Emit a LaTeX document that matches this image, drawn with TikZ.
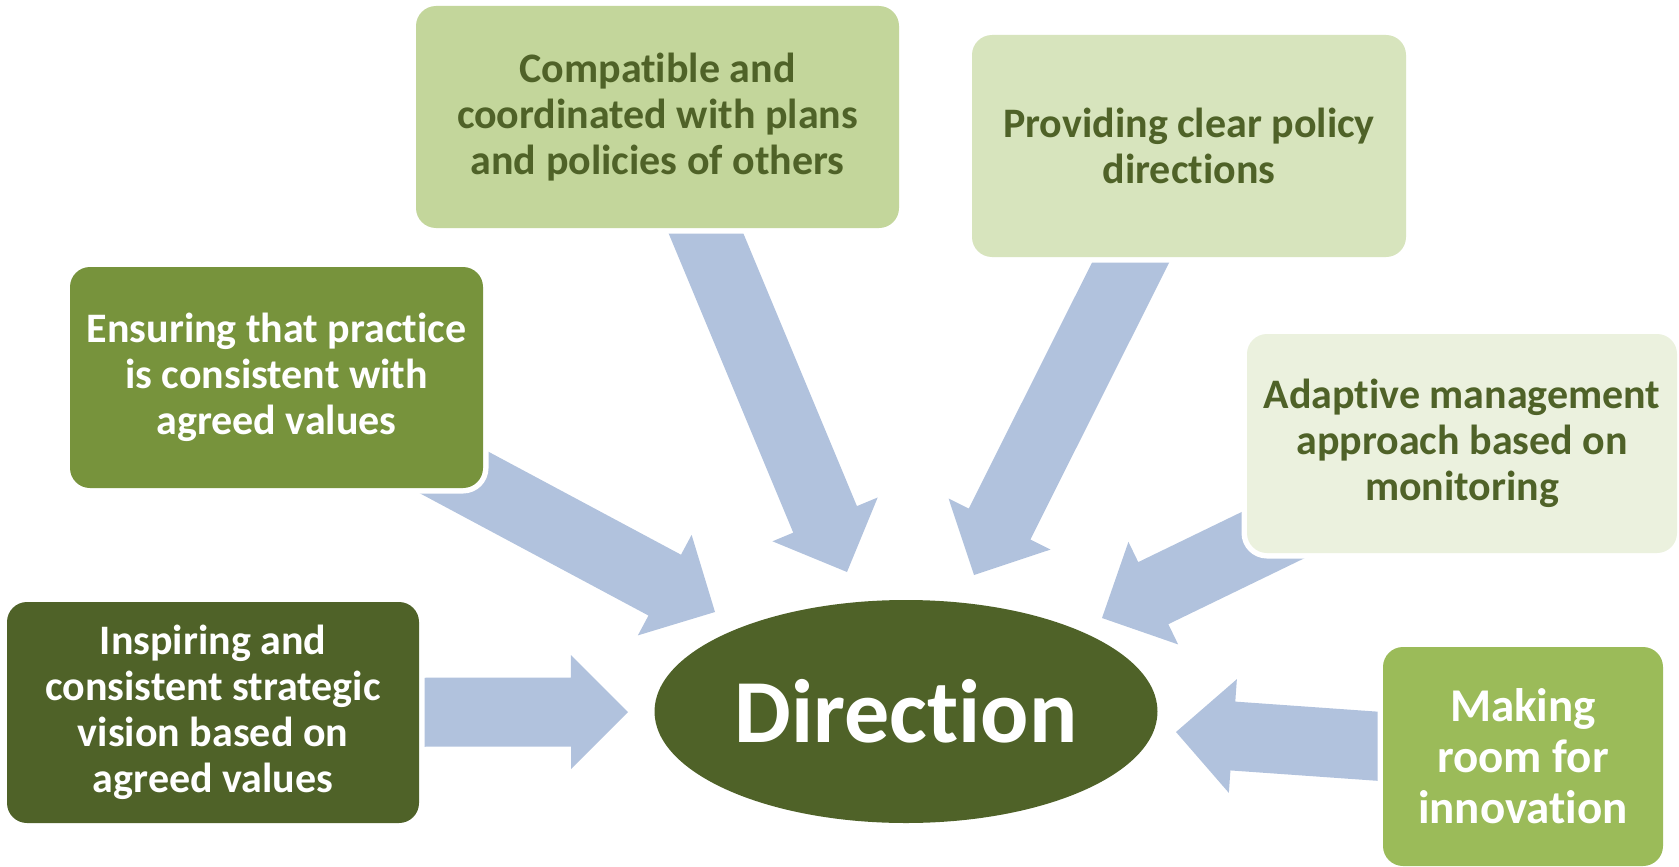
\documentclass[tikz,border=0pt]{standalone}
\usepackage{fontspec}
\setmainfont{Carlito}[Ligatures={NoCommon}]
\usetikzlibrary{calc,shapes.geometric}
\definecolor{cDark}{RGB}{79,98,40}
\definecolor{cMid}{RGB}{119,147,60}
\definecolor{cPale}{RGB}{195,214,155}
\definecolor{cPaler}{RGB}{215,228,189}
\definecolor{cPalest}{RGB}{235,241,222}
\definecolor{cLime}{RGB}{155,187,89}
\definecolor{cArrow}{RGB}{177,194,221}
\newcommand{\blkarrow}[2]{%
  \path (#1.center) coordinate (bt) (#2.center) coordinate (bp);
  \coordinate (bh) at ($(bp)!57pt!(bt)$);
  \fill[arrowfill] ($(bt)!34.5pt!90:(bp)$) -- ($(bh)!34.5pt!-90:(bt)$) -- ($(bh)!57pt!-90:(bt)$) -- (bp)
     -- ($(bh)!57pt!90:(bt)$) -- ($(bh)!34.5pt!90:(bt)$) -- ($(bt)!34.5pt!-90:(bp)$) -- cycle;
}
\begin{document}
\begin{tikzpicture}[x=1pt,y=-1pt,
  arrowfill/.style={fill=cArrow},
  boxst/.style={rectangle, rounded corners=20pt, inner sep=0pt, align=center,
    preaction={draw=white, line width=11pt},
    font=\fontsize{42}{46}\selectfont\bfseries},
  darktext/.style={text=cDark},
  lighttext/.style={text=white}]
\useasboundingbox (0,0) rectangle (1679,867);
\path
  (213,712.5) coordinate (c1)
  (276.5,377.5) coordinate (c2)
  (657.5,117) coordinate (c3)
  (1189,146) coordinate (c4)
  (1462,443.5) coordinate (c5)
  (1523,756.5) coordinate (c6);
\coordinate (tA) at (628,712);
\coordinate (tB) at (715,612);
\coordinate (tC) at (847,572);
\coordinate (tD) at (974,575);
\coordinate (tE) at (1102,618);
\coordinate (tF) at (1176,732);
\blkarrow{c1}{tA}
\blkarrow{c2}{tB}
\blkarrow{c3}{tC}
\blkarrow{c4}{tD}
\blkarrow{c5}{tE}
\blkarrow{c6}{tF}
\node[boxst, lighttext, fill=cDark, minimum width=412pt, minimum height=221pt] (b1) at (c1)
  {Inspiring and\\consistent strategic\\vision based on\\agreed values};
\node[boxst, lighttext, fill=cMid, minimum width=413pt, minimum height=221pt] (b2) at (c2)
  {Ensuring that practice\\is consistent with\\agreed values};
\node[boxst, darktext, fill=cPale, minimum width=483pt, minimum height=222pt] (b3) at (c3)
  {Compatible and\\coordinated with plans\\and policies of others};
\node[boxst, darktext, fill=cPaler, minimum width=434pt, minimum height=222pt] (b4) at (c4)
  {Providing clear policy\\directions};
\node[boxst, darktext, fill=cPalest, minimum width=430pt, minimum height=219pt] (b5) at (c5)
  {Adaptive management\\approach based on\\monitoring};
\node[boxst, lighttext, fill=cLime, minimum width=280pt, minimum height=219pt,
  font=\fontsize{47}{51}\selectfont\bfseries] (b6) at (c6)
  {Making\\room for\\innovation};
\node[ellipse, fill=cDark, minimum width=503pt, minimum height=223pt, inner sep=0pt,
  text=white, font=\fontsize{90}{95}\selectfont\bfseries] (dir) at (906,711.5) {Direction};
\end{tikzpicture}
\end{document}
